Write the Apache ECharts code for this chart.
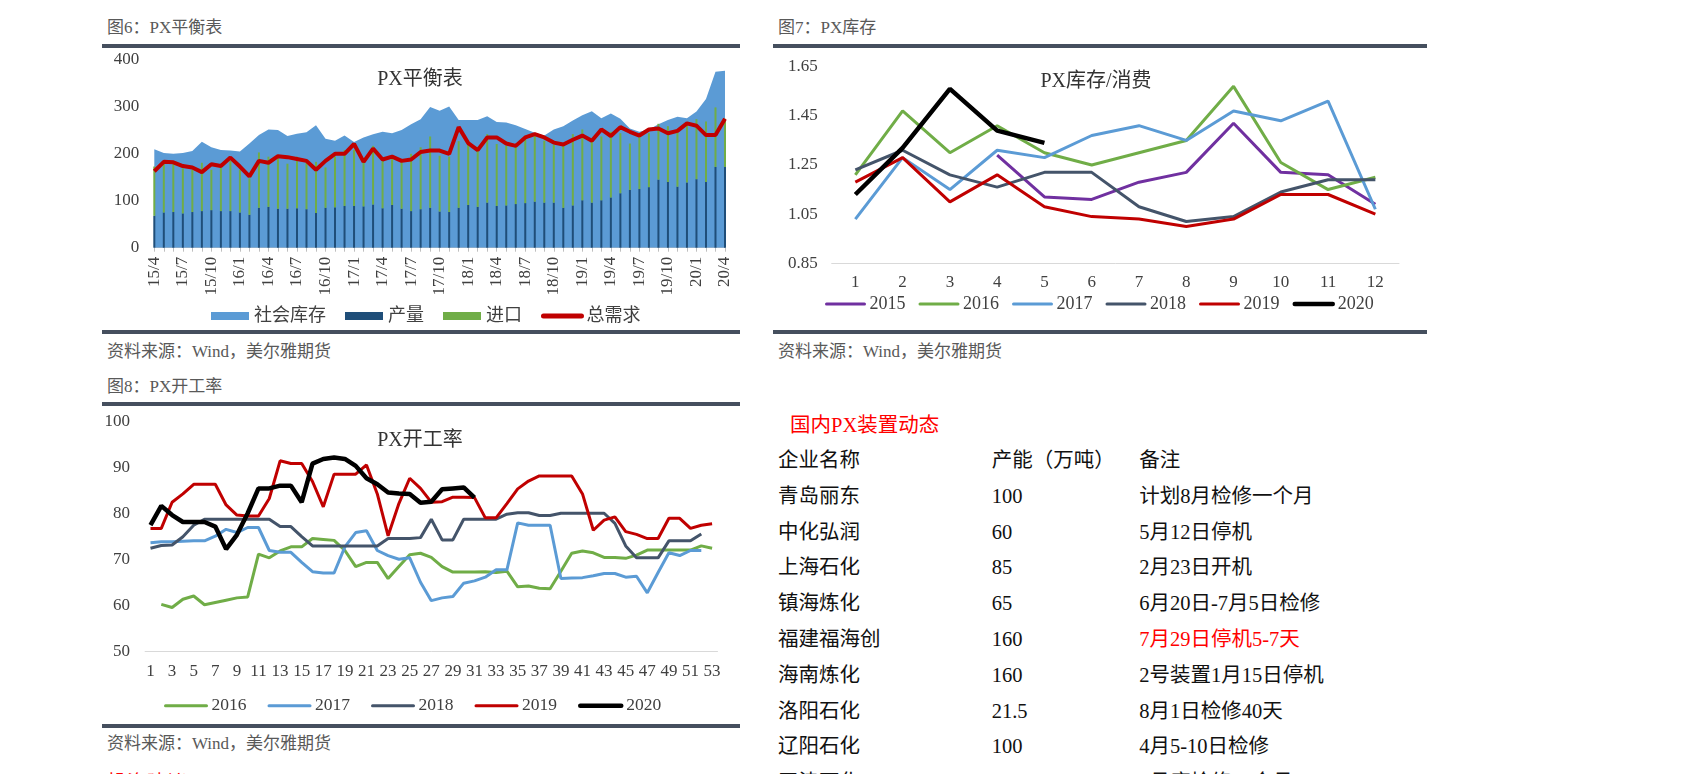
<!DOCTYPE html>
<html>
<head>
<meta charset="utf-8">
<script src="https://cdn.jsdelivr.net/npm/echarts/dist/echarts.min.js"></script>
<style>
  html, body { margin:0; padding:0; background:#fff; }
  body { width:1684px; height:774px; overflow:hidden; position:relative;
         font-family:'Liberation Serif','Noto Sans CJK SC',serif; }
  .cap { position:absolute; font-size:17px; line-height:20px; color:#595959; white-space:nowrap; }
  .rule { position:absolute; height:4px; background:#454f5e; }
  .chart { position:absolute; }
  .cell { position:absolute; font-size:20.5px; line-height:24px; color:#111; white-space:nowrap; }
</style>
</head>
<body>
<div class="cap" style="left:107px;top:18px;">图6：PX平衡表</div>
<div class="rule" style="left:102px;top:44px;width:638px;"></div>
<div class="rule" style="left:102px;top:330px;width:638px;"></div>
<div class="cap" style="left:107px;top:342px;">资料来源：Wind，美尔雅期货</div>

<div class="cap" style="left:778px;top:18px;">图7：PX库存</div>
<div class="rule" style="left:773px;top:44px;width:654px;"></div>
<div class="rule" style="left:773px;top:330px;width:654px;"></div>
<div class="cap" style="left:778px;top:342px;">资料来源：Wind，美尔雅期货</div>

<div class="cap" style="left:107px;top:377px;">图8：PX开工率</div>
<div class="rule" style="left:102px;top:402px;width:638px;"></div>
<div class="rule" style="left:102px;top:724px;width:638px;"></div>
<div class="cap" style="left:107px;top:734px;">资料来源：Wind，美尔雅期货</div>
<div class="cell" style="left:107px;top:771px;color:#ff0000;font-size:20px;">投资建议</div>

<div id="c6" class="chart" style="left:95px;top:40px;width:660px;height:290px;"></div>
<div id="c7" class="chart" style="left:773px;top:50px;width:660px;height:270px;"></div>
<div id="c8" class="chart" style="left:95px;top:410px;width:660px;height:305px;"></div>
<div id="tbl"></div>

<script>
// ---------- Data: 图6 PX平衡表 ----------
const cats6 = ['15/4','15/5','15/6','15/7','15/8','15/9','15/10','15/11','15/12',
  '16/1','16/2','16/3','16/4','16/5','16/6','16/7','16/8','16/9','16/10','16/11','16/12',
  '17/1','17/2','17/3','17/4','17/5','17/6','17/7','17/8','17/9','17/10','17/11','17/12',
  '18/1','18/2','18/3','18/4','18/5','18/6','18/7','18/8','18/9','18/10','18/11','18/12',
  '19/1','19/2','19/3','19/4','19/5','19/6','19/7','19/8','19/9','19/10','19/11','19/12',
  '20/1','20/2','20/3','20/4'];
const stock6 = [210,202,200,202,206,226,214,208,207,205,
  222,240,252,251,238,243,246,261,232,228,
  239,225,235,242,247,244,251,263,274,300,
  292,301,272,272,272,280,268,267,261,253,
  245,239,252,259,271,282,291,276,286,275,
  254,247,252,263,272,279,276,290,317,375,377];
const prod6 = [68,75,76,73,76,78,80,78,78,75,
  70,85,87,83,83,84,82,74,85,86,
  89,89,88,92,84,91,83,78,82,85,
  77,76,85,91,87,96,89,90,93,95,
  98,96,96,85,90,101,96,101,107,116,
  123,125,129,145,140,130,139,146,140,172,172];
const import6 = [105,106,102,96,90,103,86,93,107,91,
  78,118,107,115,96,110,99,109,86,108,
  119,119,99,125,104,98,99,122,132,152,
  119,118,142,131,128,146,132,127,122,136,
  140,132,123,137,152,151,134,136,140,128,
  99,110,115,119,119,115,123,128,129,127,103];
const demand6 = [163,183,182,174,171,161,178,174,192,173,
  152,185,181,195,193,189,185,166,185,200,
  200,221,183,211,188,194,185,188,204,207,
  207,200,257,223,208,235,235,222,217,235,
  242,235,224,220,230,239,228,252,238,257,
  247,239,252,254,244,249,265,260,240,240,275];

// ---------- Data: 图7 PX库存/消费 ----------
const months7 = ['1','2','3','4','5','6','7','8','9','10','11','12'];
const inv2015 = [null,null,null,1.29,1.12,1.11,1.18,1.22,1.42,1.22,1.21,1.09];
const inv2016 = [1.21,1.47,1.30,1.41,1.30,1.25,1.30,1.35,1.57,1.26,1.15,1.20];
const inv2017 = [1.03,1.28,1.15,1.31,1.28,1.37,1.41,1.35,1.47,1.43,1.51,1.07];
const inv2018 = [1.23,1.31,1.21,1.16,1.22,1.22,1.08,1.02,1.04,1.14,1.19,1.19];
const inv2019 = [1.18,1.28,1.10,1.21,1.08,1.04,1.03,1.00,1.03,1.13,1.13,1.05];
const inv2020 = [1.13,1.32,1.56,1.39,1.34];

// ---------- Data: 图8 PX开工率 ----------
const weeks8 = ['1','2','3','4','5','6','7','8','9','10','11','12','13','14','15','16','17','18',
  '19','20','21','22','23','24','25','26','27','28','29','30','31','32','33','34','35','36',
  '37','38','39','40','41','42','43','44','45','46','47','48','49','50','51','52','53'];
const op2016 = [null,60.3,59.6,61.4,62.1,60.2,60.7,61.2,61.7,61.9,
  71.2,70.4,71.9,72.8,72.8,74.6,74.4,74.2,72.0,68.5,
  69.4,69.4,65.9,68.5,71.1,71.4,70.5,68.5,67.3,67.3,
  67.3,67.4,67.2,67.5,64.1,64.3,63.8,63.7,67.5,71.4,
  71.9,71.5,70.5,70.5,70.3,71.0,72.1,72.1,72.1,72.1,
  72.1,73.0,72.5];
const op2017 = [73.7,73.9,73.9,74.0,74.1,74.1,75.1,76.6,75.9,77.0,
  77.0,72.0,71.6,71.6,69.4,67.4,67.1,67.1,72.8,75.9,
  76.3,72.0,70.9,70.1,70.4,65.1,61.1,61.7,62.0,64.9,
  65.4,66.2,67.8,67.8,78.0,77.5,77.5,77.5,65.9,66.0,
  66.1,66.5,67.0,67.0,66.2,66.4,62.8,67.2,71.5,70.9,
  72.0,72.0];
const op2018 = [72.5,73.1,73.2,75.0,77.5,78.8,78.8,78.8,78.8,78.8,
  78.8,78.8,77.2,77.2,75.0,73.0,73.0,73.0,73.0,73.0,
  73.0,73.0,74.6,74.6,74.6,74.8,78.8,74.3,74.3,78.8,
  78.8,78.8,78.8,79.9,80.2,80.2,79.6,79.6,80.1,80.1,
  80.1,80.1,80.1,77.9,73.0,70.4,70.4,70.4,74.1,74.1,
  74.1,75.6];
const op2019 = [76.8,76.8,82.5,84.3,86.4,86.4,86.4,81.9,79.7,79.5,
  79.5,83.3,91.5,90.9,90.9,87.0,81.5,88.6,88.6,88.6,
  90.6,84.3,75.2,82.2,87.7,85.5,82.5,82.6,83.6,83.6,
  83.5,79.1,79.1,82.2,85.4,87.1,88.2,88.2,88.2,88.2,
  84.3,76.4,78.6,79.3,76.1,75.5,74.6,74.6,79.0,79.0,
  76.8,77.5,77.8];
const op2020 = [77.5,81.7,79.7,78.2,78.2,78.2,77.2,72.3,75.4,80.1,
  85.5,85.5,86.1,86.1,82.5,90.9,91.9,92.2,91.9,90.4,
  87.7,86.4,84.6,84.4,84.3,82.4,82.6,85.3,85.5,85.7,
  83.5];

// ---------- Table: 国内PX装置动态 ----------
const tblTitle = '国内PX装置动态';
const tblHeader = ['企业名称','产能（万吨）','备注'];
const tblNames = ['青岛丽东','中化弘润','上海石化','镇海炼化','福建福海创','海南炼化','洛阳石化','辽阳石化','天津石化'];
const tblCap = ['100','60','85','65','160','160','21.5','100',''];
const tblNote = ['计划8月检修一个月','5月12日停机','2月23日开机','6月20日-7月5日检修','7月29日停机5-7天','2号装置1月15日停机','8月1日检修40天','4月5-10日检修','5月底检修一个月'];
const tblRedRow = 4;

const FF = "'Liberation Serif','Noto Sans CJK SC',serif";
const LBL = '#404040';
const NOSYM = {opacity:0, borderWidth:0};

// ---------- Chart 6 ----------
const c6 = echarts.init(document.getElementById('c6'));
c6.setOption({
  animation:false,
  textStyle:{fontFamily:FF},
  grid:{left:59.3, right:30, top:20, bottom:82.3},
  graphic:[{type:'text', x:325, y:40, style:{text:'PX平衡表', fontSize:20, fontFamily:FF, fill:'#333', align:'center', verticalAlign:'middle', textAlign:'center', textVerticalAlign:'middle'}}],
  legend:{left:111, top:262, itemWidth:38, itemHeight:8, itemGap:19,
    textStyle:{fontSize:18, color:LBL, fontFamily:FF},
    data:[{name:'社会库存', icon:'rect'},{name:'产量', icon:'rect'},{name:'进口', icon:'rect'},
          {name:'总需求', itemStyle:NOSYM, lineStyle:{width:5, cap:'round'}}]},
  xAxis:{type:'category', data:cats6, boundaryGap:false,
    axisLine:{lineStyle:{color:'#bfbfbf'}},
    axisTick:{show:true, interval:0, length:4, lineStyle:{color:'#bfbfbf'}},
    axisLabel:{interval:2, rotate:90, fontSize:17, color:LBL, margin:9, fontFamily:FF}},
  yAxis:{type:'value', min:0, max:400, interval:100, splitLine:{show:false},
    axisLine:{show:false}, axisTick:{show:false},
    axisLabel:{fontSize:17, color:LBL, margin:15, fontFamily:FF}},
  series:[
    {name:'社会库存', type:'line', data:stock6, symbol:'none', lineStyle:{width:0}, itemStyle:{color:'#5b9bd5'}, areaStyle:{color:'#5b9bd5', opacity:1}, z:1},
    {name:'产量', type:'bar', stack:'s', data:prod6, barWidth:2, itemStyle:{color:'#1f4e79'}, z:2},
    {name:'进口', type:'bar', stack:'s', data:import6, barWidth:2, itemStyle:{color:'#70ad47'}, z:2},
    {name:'总需求', type:'line', data:demand6, symbol:'none', lineStyle:{width:4, color:'#c00000'}, itemStyle:{color:'#c00000'}, z:3}
  ]
});

// ---------- Chart 7 ----------
const c7 = echarts.init(document.getElementById('c7'));
const s7 = [
  ['2015', inv2015, '#7030a0', 3],
  ['2016', inv2016, '#70ad47', 3],
  ['2017', inv2017, '#5b9bd5', 3],
  ['2018', inv2018, '#44546a', 3],
  ['2019', inv2019, '#c00000', 3],
  ['2020', inv2020, '#000000', 4.5]
];
c7.setOption({
  animation:false,
  textStyle:{fontFamily:FF},
  grid:{left:58.7, right:34, top:16.7, bottom:56.7},
  graphic:[{type:'text', x:323, y:31.7, style:{text:'PX库存/消费', fontSize:20, fontFamily:FF, fill:'#333', align:'center', verticalAlign:'middle', textAlign:'center', textVerticalAlign:'middle'}}],
  legend:{left:47, top:240, itemWidth:38, itemHeight:8, itemGap:13,
    textStyle:{fontSize:18, color:LBL, fontFamily:FF},
    data:s7.map(s=>({name:s[0], itemStyle:NOSYM, lineStyle:{width:s[3], cap:'round'}}))},
  xAxis:{type:'category', data:months7, boundaryGap:true,
    axisLine:{lineStyle:{color:'#d9d9d9'}}, axisTick:{show:false},
    axisLabel:{fontSize:17, color:LBL, margin:11, fontFamily:FF}},
  yAxis:{type:'value', min:0.85, max:1.65, interval:0.2, splitLine:{show:false},
    axisLine:{show:false}, axisTick:{show:false},
    axisLabel:{fontSize:17, color:LBL, margin:14, fontFamily:FF, formatter:v=>v.toFixed(2)}},
  series:s7.map(s=>({name:s[0], type:'line', data:s[1], symbol:'none', connectNulls:false,
    lineStyle:{width:s[3], color:s[2]}, itemStyle:{color:s[2]}}))
});

// ---------- Chart 8 ----------
const c8 = echarts.init(document.getElementById('c8'));
const s8 = [
  ['2016', op2016, '#70ad47', 3],
  ['2017', op2017, '#5b9bd5', 3],
  ['2018', op2018, '#44546a', 3],
  ['2019', op2019, '#c00000', 3],
  ['2020', op2020, '#000000', 4.5]
];
c8.setOption({
  animation:false,
  textStyle:{fontFamily:FF},
  grid:{left:50.1, right:37.5, top:11.7, bottom:63.3},
  graphic:[{type:'text', x:325, y:30.7, style:{text:'PX开工率', fontSize:20, fontFamily:FF, fill:'#333', align:'center', verticalAlign:'middle', textAlign:'center', textVerticalAlign:'middle'}}],
  legend:{left:64, top:282, itemWidth:41, itemHeight:8, itemGap:21,
    textStyle:{fontSize:17.5, color:LBL, fontFamily:FF},
    data:s8.map(s=>({name:s[0], itemStyle:NOSYM, lineStyle:{width:s[3], cap:'round'}}))},
  xAxis:{type:'category', data:weeks8, boundaryGap:true,
    axisLine:{lineStyle:{color:'#d9d9d9'}}, axisTick:{show:false},
    axisLabel:{interval:1, fontSize:17, color:LBL, margin:11, fontFamily:FF}},
  yAxis:{type:'value', min:50, max:100, interval:10, splitLine:{show:false},
    axisLine:{show:false}, axisTick:{show:false},
    axisLabel:{fontSize:17, color:LBL, margin:15, fontFamily:FF}},
  series:s8.map(s=>({name:s[0], type:'line', data:s[1], symbol:'none', connectNulls:false,
    lineStyle:{width:s[3], color:s[2]}, itemStyle:{color:s[2]}}))
});

// ---------- Table ----------
(function(){
  const host = document.getElementById('tbl');
  const add = (txt, x, cy, color) => {
    const d = document.createElement('div');
    d.className = 'cell';
    d.textContent = txt;
    d.style.left = x + 'px';
    d.style.top = (cy - 12) + 'px';
    if (color) d.style.color = color;
    host.appendChild(d);
  };
  add(tblTitle, 790, 425, '#ff0000');
  const cols = [778, 991.7, 1139.3];
  const y0 = 460, pitch = 35.8;
  tblHeader.forEach((t,i)=>add(t, cols[i], y0));
  tblNames.forEach((n,r)=>{
    const cy = y0 + pitch*(r+1);
    add(n, cols[0], cy);
    add(tblCap[r], cols[1], cy);
    add(tblNote[r], cols[2], cy, r===tblRedRow ? '#ff0000' : null);
  });
})();
</script>
</body>
</html>
